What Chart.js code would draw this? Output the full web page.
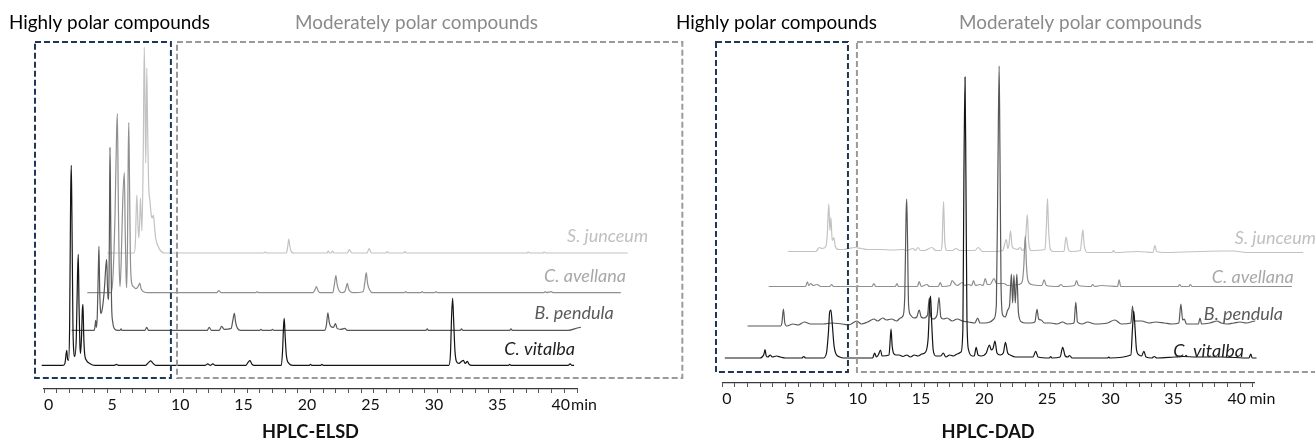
<!DOCTYPE html>
<html><head><meta charset="utf-8">
<script src="https://cdn.jsdelivr.net/npm/chart.js@4.4.1/dist/chart.umd.min.js"></script>
<style>
html,body{margin:0;padding:0;background:#fff;}
#wrap{position:relative;width:1315px;height:443px;overflow:hidden;background:#fff;}
canvas{position:absolute;top:0;}
#cL{left:0;} #cR{left:655px;}
</style></head><body>
<div id="wrap"><canvas id="cL" width="690" height="443"></canvas><canvas id="cR" width="660" height="443"></canvas></div>
<script>
// ---------- DATA (retention time in min, detector signal in arbitrary units) ----------
const SAMPLES = ['C. vitalba', 'B. pendula', 'C. avellana', 'S. junceum'];
const MAJOR_TICKS = [0, 5, 10, 15, 20, 25, 30, 35, 40];
const REGION_LABELS = ['Highly polar compounds', 'Moderately polar compounds'];
const PANEL_TITLES = ['HPLC-ELSD', 'HPLC-DAD'];

const ELSD_VITALBA = [[-0.18,0],[1.5,0],[1.65,2],[1.79,15],[1.86,6],[1.93,5],[2.02,40],[2.1,170],[2.15,200],[2.2,150],[2.28,40],[2.36,12],[2.42,9],[2.55,30],[2.64,90],[2.7,111],[2.76,60],[2.83,20],[2.88,12],[2.96,30],[3.02,55],[3.07,61],[3.13,30],[3.2,12],[3.35,5],[3.6,2],[4.0,0],[5.5,0],[5.7,1],[5.9,0],[8.0,0],[8.25,3],[8.41,4.5],[8.6,2],[8.8,0],[12.7,0],[12.9,1.5],[13.1,0],[13.3,1.5],[13.5,0],[15.9,0],[16.08,3],[16.23,4.7],[16.4,1],[16.55,0],[18.7,0],[18.8,15],[18.88,40],[18.93,47],[19.0,30],[19.1,10],[19.3,2],[19.6,0],[20.9,0],[21.0,1],[21.1,0],[21.8,0],[21.9,1],[22.0,0],[31.9,0],[32.03,12],[32.12,50],[32.2,67],[32.28,45],[32.38,15],[32.5,4],[32.7,2],[32.9,4],[33.04,5],[33.2,2],[33.36,4],[33.5,1],[33.7,0],[36.6,0],[36.7,1],[36.8,0],[41.3,0],[41.45,1.5],[41.6,0],[41.77,0]];
const ELSD_PENDULA = [[2.18,0],[3.95,0],[4.02,4],[4.07,10],[4.13,3],[4.2,15],[4.28,60],[4.33,84],[4.39,40],[4.45,20],[4.49,17],[4.6,22],[4.75,40],[4.88,65],[4.94,71],[5.0,45],[5.05,32],[5.1,31],[5.15,90],[5.2,183],[5.25,120],[5.32,30],[5.42,8],[5.6,1],[5.8,0],[6.0,0],[6.07,1.5],[6.15,0],[7.95,0],[8.09,3],[8.25,0],[12.85,0],[13.02,3],[13.2,0],[13.8,0],[14.0,4],[14.2,1],[14.75,2],[14.88,10],[15.0,17],[15.1,8],[15.25,2],[15.5,0],[17.0,0],[17.1,1],[17.2,0],[17.9,0],[18.0,1],[18.1,0],[22.1,0],[22.25,5],[22.37,17.6],[22.48,8],[22.6,4],[22.8,3],[22.97,6.7],[23.1,2],[23.4,1],[23.7,2],[23.9,0],[30.1,0],[30.2,1.5],[30.3,0],[32.8,0],[32.9,1.5],[33.0,0],[36.7,0],[36.8,1.5],[36.9,0],[41.3,0],[42.3,3],[42.8,2],[43.3,6],[43.6,5],[43.8,8],[44.1,5],[44.3,7],[44.6,10],[44.8,13]];
const ELSD_AVELLANA = [[3.41,0],[5.3,0],[5.45,20],[5.6,80],[5.72,160],[5.78,179],[5.85,100],[5.92,30],[5.99,6],[6.08,30],[6.2,90],[6.33,120],[6.4,60],[6.47,15],[6.52,5],[6.58,50],[6.64,140],[6.68,170],[6.74,110],[6.8,40],[6.9,10],[7.05,6],[7.25,4],[7.45,7],[7.55,9.7],[7.65,4],[7.85,1],[8.2,0],[13.6,0],[13.78,2],[13.95,0],[16.7,0],[16.8,1],[16.9,0],[21.2,0],[21.35,3],[21.47,6],[21.6,2],[21.75,0],[22.75,0],[22.88,8],[23.0,17],[23.1,8],[23.25,2],[23.5,0],[23.7,1],[23.82,6],[23.9,9.3],[24.0,4],[24.15,1],[24.4,0],[25.15,1],[25.28,10],[25.39,20],[25.5,9],[25.65,3],[25.9,0],[28.4,0],[28.5,1],[28.6,0],[29.7,0],[29.8,1],[29.9,0],[30.8,0],[30.9,1],[31.0,0],[39.4,0],[39.5,1],[39.6,0],[40.0,1],[40.1,0],[45.45,0]];
const ELSD_JUNCEUM = [[4.99,0],[7.1,0],[7.2,10],[7.31,58],[7.4,30],[7.47,15],[7.55,35],[7.6,55],[7.67,35],[7.72,22],[7.82,100],[7.9,206],[7.96,150],[8.02,90],[8.1,185],[8.16,130],[8.24,70],[8.35,52],[8.45,38],[8.52,35],[8.62,38],[8.7,28],[8.8,15],[8.95,8],[9.2,2],[9.5,0],[17.3,0],[17.43,1],[17.55,0],[19.1,0],[19.2,6],[19.29,14],[19.38,6],[19.5,1],[19.7,0],[22.3,0],[22.4,2],[22.5,0],[22.63,0],[22.73,2],[22.85,0],[23.9,0],[24.06,3.3],[24.25,0],[25.45,0],[25.62,4.3],[25.8,0],[26.95,0],[27.05,1.5],[27.15,0],[28.35,0],[28.44,1.5],[28.55,0],[38.05,0],[38.16,1],[38.3,0],[39.3,0],[39.42,1],[39.55,0],[46.0,0],[46.19,6.7],[46.3,2],[46.42,2],[46.5,4],[46.6,1],[46.75,0],[46.95,0]];

const DAD_VITALBA = [[0.2,0],[3.0,0],[3.15,1],[3.3,4],[3.38,8.3],[3.48,2],[3.6,1],[3.8,3],[3.95,1],[4.3,2],[4.6,1],[5.0,0],[6.3,0],[6.45,1.5],[6.6,0],[8.0,0],[8.25,5],[8.4,25],[8.5,46],[8.6,48],[8.7,35],[8.85,12],[9.0,4],[9.3,1],[9.6,0],[11.9,0],[12.06,5],[12.2,1],[12.35,3],[12.53,8],[12.65,2],[13.2,3],[13.28,15],[13.36,29],[13.45,12],[13.55,5],[13.75,3],[14.0,3],[14.3,1.5],[14.6,3],[14.9,1],[15.2,3],[15.5,2],[15.8,4],[16.1,6],[16.3,20],[16.42,55],[16.49,62],[16.58,35],[16.7,8],[16.9,2],[17.3,2],[17.49,5],[17.7,1],[18.0,3],[18.3,2],[18.6,4],[18.9,6],[19.05,30],[19.13,180],[19.22,281],[19.29,180],[19.37,40],[19.5,8],[19.8,2],[19.95,2],[20.1,10.7],[20.25,3],[20.5,2],[20.9,5],[21.15,13],[21.3,8],[21.45,10],[21.59,17],[21.75,5],[22.0,3],[22.25,5],[22.42,15.7],[22.6,5],[22.8,3],[23.2,1],[24.6,1],[24.82,6.7],[25.0,1],[25.9,0],[26.0,1.5],[26.1,0],[26.75,1],[26.95,10.7],[27.15,2],[27.35,1],[27.5,2.5],[27.7,0],[30.5,0],[30.6,1],[30.7,0],[32.35,3],[32.48,30],[32.58,47],[32.68,30],[32.8,8],[33.0,3],[33.2,2],[33.38,6.7],[33.55,1],[34.0,0],[34.2,1.5],[34.4,0],[35.8,1],[36.5,1.5],[37.5,1],[38.5,1],[39.5,1],[41.7,0],[41.85,4],[41.95,0],[42.3,0]];
const DAD_PENDULA = [[2.0,-1],[4.6,-1],[4.72,2],[4.84,16],[4.95,2],[5.1,-1],[5.6,1],[6.0,0],[6.5,3],[7.0,1],[8.0,1],[8.66,2],[9.5,1],[10.0,0],[10.66,4],[11.0,1],[11.5,3],[12.0,6],[12.3,4],[12.7,7],[13.0,5],[13.4,6],[13.8,4],[14.1,7],[14.3,9],[14.45,30],[14.55,110],[14.6,126],[14.66,90],[14.75,20],[14.9,10],[15.2,7],[15.4,8],[15.59,15],[15.75,8],[15.95,7],[16.25,10],[16.39,27],[16.5,9],[16.7,6],[17.0,10],[17.16,27.6],[17.3,8],[17.5,6],[17.8,7],[18.2,4],[18.6,6],[19.0,4],[19.5,3],[20.0,2],[20.22,7],[20.4,2],[20.8,2],[21.2,3],[21.5,6],[21.7,20],[21.82,150],[21.92,259],[21.98,180],[22.07,40],[22.2,10],[22.4,8],[22.6,15],[22.75,20],[22.89,51],[22.99,22],[23.09,50],[23.2,22],[23.32,51],[23.45,12],[23.7,3],[24.0,2],[24.4,2],[24.75,3],[24.92,15.6],[25.05,6],[25.25,5],[25.5,2],[26.0,2],[26.5,1],[26.95,3],[27.3,1],[27.85,2],[27.99,23],[28.12,3],[28.5,1],[28.92,3],[29.5,1],[30.5,2],[31.08,5],[31.6,1],[32.35,2],[32.48,19],[32.6,4],[33.2,4],[33.8,2],[34.3,3],[35.0,2],[35.6,1],[36.15,2],[36.31,21],[36.45,5],[36.58,6],[36.75,1],[37.7,1],[37.82,7],[37.95,1],[38.6,2],[39.18,4],[39.5,2],[40.0,1],[40.5,2],[41.0,3],[41.5,2],[42.2,4],[42.8,3],[43.5,4],[44.3,4.3]];
const DAD_AVELLANA = [[3.67,0],[6.6,0],[6.73,4.7],[6.85,1],[7.0,3],[7.2,1],[7.5,2],[7.8,0],[8.5,0],[8.66,2],[8.8,0],[10.6,0],[10.7,1],[10.8,0],[11.85,0],[12.0,3],[12.15,0],[13.7,0],[13.83,3],[13.95,0],[15.45,0],[15.59,5],[15.75,0],[16.2,2],[16.4,0],[17.1,0],[17.26,4],[17.4,0],[18.05,1],[18.19,6],[18.4,3],[18.6,1],[19.0,4],[19.2,1],[19.5,2],[19.75,1],[19.89,6],[20.05,1],[20.4,2],[20.65,1],[20.82,8],[20.98,2],[21.2,2],[21.52,8],[21.7,3],[22.3,3],[22.6,1],[23.5,2],[23.75,5],[23.87,20],[23.99,50.6],[24.08,22],[24.2,6],[24.5,2],[25.3,1],[25.49,6.7],[25.65,1],[26.6,0],[26.81,2],[27.0,0],[27.9,1],[28.05,6],[28.2,1],[29.2,0],[29.32,2],[29.5,0],[30.0,1],[31.3,0],[31.42,6.7],[31.55,0],[36.1,0],[36.21,2],[36.35,0],[36.95,0],[37.05,2],[37.2,0],[45.1,0],[45.24,4],[45.35,0],[45.8,0]];
const DAD_JUNCEUM = [[5.2,1],[7.4,1],[7.5,2],[7.67,5],[7.9,4],[8.2,6],[8.32,20],[8.43,48.6],[8.52,22],[8.6,35],[8.7,12],[8.83,15],[8.95,6],[9.2,3],[9.6,3],[10.0,4],[10.5,5],[11.0,4],[11.5,3],[12.5,3],[13.5,2.5],[14.33,3],[14.6,2],[15.1,4],[15.3,2],[15.5,5],[15.7,2],[16.0,2],[16.59,5],[16.9,2],[17.3,2],[17.4,8],[17.52,51],[17.62,10],[17.8,2],[18.2,2],[18.5,4],[18.8,2],[19.3,2],[20.0,2],[20.26,5],[20.6,1],[21.5,1],[22.2,2],[22.49,13],[22.6,4],[22.7,8],[22.82,21.6],[22.95,6],[23.1,4],[23.35,3],[23.59,5],[23.75,2],[23.95,5],[24.07,25],[24.15,37.6],[24.25,12],[24.45,2],[25.55,3],[25.67,30],[25.75,54],[25.83,25],[25.98,3],[26.2,1],[27.05,1],[27.22,15.3],[27.4,3],[27.6,1],[28.35,2],[28.47,15],[28.55,22.6],[28.65,8],[28.9,0],[30.85,0],[30.98,2],[31.1,0],[32.9,1],[34.1,0],[34.25,7],[34.4,1],[35,0],[39.5,1.5],[40.5,1.5],[41.5,0],[46.0,0],[46.2,8],[46.35,2],[46.5,3],[46.7,1],[47.4,0]];

// ---------- STYLE / LAYOUT ----------
const FAMILY = 'Lato';
const TRACE_COLORS = ['#141414', '#575757', '#8f8f8f', '#c2c2c2'];
const LABEL_COLORS = ['#1e1e1e', '#5a5a5a', '#a8a8a8', '#c0c0c0'];
const NAVY = '#1f3657', BOXGRAY = '#9a9a9a';

const mctx = document.createElement('canvas').getContext('2d');
function fitSize(text, style, weight, target) {
  mctx.font = `${style} ${weight} 100px ${FAMILY}`;
  return 100 * target / mctx.measureText(text).width;
}
const TICK_SIZE = fitSize('40', 'normal', 400, 18.5);
const HEAD_SIZE = fitSize(REGION_LABELS[0], 'normal', 400, 201);
const LAB_SIZE = fitSize('C. avellana', 'italic', 400, 82);
const TITLE_SIZE = fitSize(PANEL_TITLES[0], 'normal', 700, 97);
Chart.defaults.font.family = FAMILY;

function makePanel(canvasId, cfg) {
  const datasets = cfg.traces.map((tr, i) => ({
    label: SAMPLES[i],
    data: tr.map(p => ({ x: p[0], y: p[1] + cfg.stack[i] })),
    borderColor: TRACE_COLORS[i],
    borderWidth: 1.2,
    pointRadius: 0,
    fill: false,
    clip: false,
    cubicInterpolationMode: 'monotone'
  }));
  const decor = {
    id: 'decor' + canvasId,
    afterDatasetsDraw(chart) {
      const ctx = chart.ctx, xs = chart.scales.x, ys = chart.scales.y;
      ctx.save();
      cfg.boxes.forEach(b => {
        const x0 = xs.getPixelForValue(b.x[0]), x1 = xs.getPixelForValue(b.x[1]);
        const y0 = ys.getPixelForValue(b.y[1]), y1 = ys.getPixelForValue(b.y[0]);
        ctx.strokeStyle = b.color; ctx.lineWidth = 2; ctx.setLineDash([6, 3]);
        ctx.strokeRect(x0, y0, x1 - x0, y1 - y0);
      });
      ctx.setLineDash([]);
      ctx.font = `italic 400 ${LAB_SIZE}px ${FAMILY}`;
      ctx.textBaseline = 'middle';
      cfg.labels.forEach((l, i) => {
        ctx.fillStyle = LABEL_COLORS[i];
        ctx.textAlign = l.align;
        ctx.fillText(SAMPLES[i], xs.getPixelForValue(l.x), ys.getPixelForValue(l.y));
      });
      ctx.font = `normal 400 ${HEAD_SIZE}px ${FAMILY}`;
      ctx.textAlign = 'left';
      ctx.fillStyle = '#000';
      ctx.fillText(REGION_LABELS[0], cfg.heads[0], 22.5);
      ctx.fillStyle = '#8a8a8a';
      ctx.fillText(REGION_LABELS[1], cfg.heads[1], 22.5);
      ctx.font = `normal 400 ${TICK_SIZE}px ${FAMILY}`;
      ctx.fillStyle = '#111';
      const last = MAJOR_TICKS[MAJOR_TICKS.length - 1];
      const lx = xs.getPixelForValue(last) + ctx.measureText(String(last)).width + cfg.minGap;
      ctx.fillText('min', lx, xs.top + 4 + 2 + TICK_SIZE * 1.2 / 2);
      ctx.restore();
    }
  };
  return new Chart(document.getElementById(canvasId), {
    type: 'line',
    data: { datasets },
    options: {
      responsive: false, animation: false, devicePixelRatio: 1,
      layout: { padding: { left: cfg.padL, right: cfg.padR, top: 20, bottom: 0 } },
      plugins: { legend: { display: false }, tooltip: { enabled: false }, title: { display: false } },
      scales: {
        x: {
          type: 'linear', min: 0, max: cfg.xmax,
          afterFit: s => { s.height = cfg.axisH; },
          border: { display: true, color: '#3a3a3a', width: 1.2 },
          grid: { display: true, drawOnChartArea: false, drawTicks: true, tickLength: 4, color: '#555' },
          ticks: {
            stepSize: 1, autoSkip: false, maxRotation: 0, minRotation: 0, includeBounds: false,
            maxTicksLimit: 100, align: 'start', padding: 2, color: '#111',
            font: { family: FAMILY, size: TICK_SIZE },
            callback: v => MAJOR_TICKS.includes(v) ? String(v) : ''
          },
          title: { display: true, text: cfg.title, color: '#111', padding: 0,
                   font: { family: FAMILY, size: TITLE_SIZE, weight: 'bold' } }
        },
        y: { display: false, min: 0, max: cfg.ymax }
      }
    },
    plugins: [decor]
  });
}

makePanel('cL', {
  traces: [ELSD_VITALBA, ELSD_PENDULA, ELSD_AVELLANA, ELSD_JUNCEUM],
  stack: [23.6, 58.6, 96.3, 136],
  padL: 44, padR: 113, xmax: 42, axisH: 54, ymax: 369, title: PANEL_TITLES[0],
  labels: [{x: 41.84, y: 40, align: 'right'}, {x: 44.9, y: 76, align: 'right'},
           {x: 45.86, y: 112.5, align: 'right'}, {x: 47.6, y: 152.5, align: 'right'}],
  boxes: [{x: [-0.71, 10.0], y: [11, 347], color: NAVY}, {x: [10.48, 50.3], y: [11, 347], color: BOXGRAY}],
  heads: [9, 295], minGap: 1
});
makePanel('cR', {
  traces: [DAD_VITALBA, DAD_PENDULA, DAD_AVELLANA, DAD_JUNCEUM],
  stack: [25, 58, 96.5, 130.5],
  padL: 67.3, padR: 61, xmax: 42.1, axisH: 60, ymax: 363, title: PANEL_TITLES[1],
  labels: [{x: 41.3, y: 32, align: 'right'}, {x: 44.4, y: 69, align: 'right'},
           {x: 45.25, y: 105.5, align: 'right'}, {x: 40.58, y: 145, align: 'left'}],
  boxes: [{x: [-0.5, 9.95], y: [11, 341], color: NAVY}, {x: [10.66, 55], y: [11, 341], color: BOXGRAY}],
  heads: [21, 304], minGap: 3.5
});
</script></body></html>
